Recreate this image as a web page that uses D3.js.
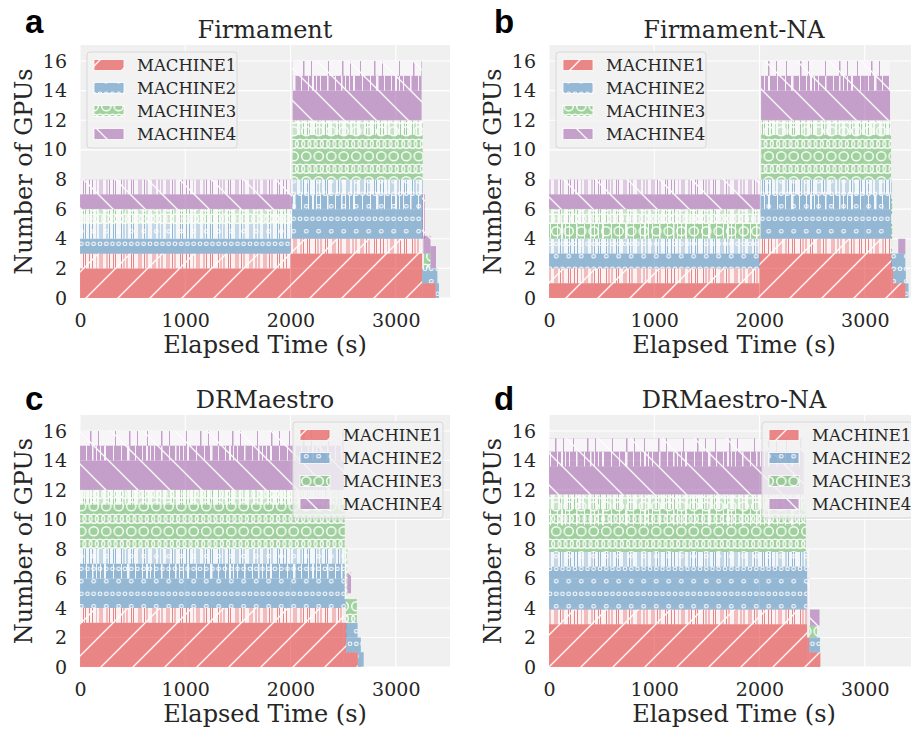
<!DOCTYPE html>
<html><head><meta charset="utf-8">
<script src="https://cdn.jsdelivr.net/npm/d3@7"></script>
<style>body{margin:0;background:#fff}</style>
</head><body>
<svg id="c" width="911" height="730"></svg>
<script>
// ---------------- DATA ----------------
const panelTitles = ["Firmament", "Firmament-NA", "DRMaestro", "DRMaestro-NA"];
const panelLetters = ["a", "b", "c", "d"];
const machines = ["MACHINE1", "MACHINE2", "MACHINE3", "MACHINE4"];
const machineColors = ["#e41a1c", "#377eb8", "#4daf4a", "#984ea3"];
const xTicks = [0, 1000, 2000, 3000];
const yTicks = [0, 2, 4, 6, 8, 10, 12, 14, 16];
const xMax = 3515, yMax = 17.08;
// band: [machine, tStart, tEnd, gpuLow, gpuHigh, occupancy level]
// level 0 = always occupied, 1 = mostly, 2 = often, 3 = rarely
const firmamentBands = [
  [0, 0, 2000, 0, 2, 0], [0, 0, 2000, 2, 3, 2],
  [1, 0, 2015, 3, 4, 0], [1, 0, 2015, 4, 5, 2],
  [2, 0, 2015, 5, 6, 2],
  [3, 0, 2015, 6, 7, 0], [3, 0, 2015, 7, 8, 2],
  [0, 2000, 3250, 0, 3, 0], [0, 2000, 3250, 3, 4, 2],
  [1, 2015, 3255, 4, 6, 0], [1, 2015, 3255, 6, 7, 1], [1, 2015, 3255, 7, 8, 2],
  [2, 2020, 3255, 8, 11, 0], [2, 2020, 3255, 11, 12, 2],
  [3, 2020, 3245, 12, 14, 0], [3, 2020, 3245, 14, 15, 1], [3, 2020, 3245, 15, 16, 3],
  [0, 3250, 3380, 0, 1, 0], [1, 3250, 3395, 1, 2, 0], [1, 3380, 3410, 0, 1, 0],
  [2, 3268, 3330, 2, 3, 0], [3, 3250, 3275, 4, 7, 2],
  [3, 3262, 3330, 3, 4.2, 0], [3, 3330, 3382, 2, 3.5, 0]
];
const firmamentNABands = [
  [0, 0, 2000, 0, 1, 0], [0, 0, 2000, 1, 2, 2],
  [1, 0, 2005, 2, 3, 0], [1, 0, 2005, 3, 4, 2],
  [2, 0, 2010, 4, 5, 1], [2, 0, 2010, 5, 6, 2],
  [3, 0, 2010, 6, 7, 0], [3, 0, 2010, 7, 8, 2],
  [0, 2000, 3255, 0, 3, 0], [0, 2000, 3250, 3, 4, 2],
  [1, 2010, 3255, 4, 6, 0], [1, 2010, 3255, 6, 7, 1], [1, 2010, 3255, 7, 8, 2],
  [2, 2015, 3250, 8, 11, 0], [2, 2015, 3250, 11, 12, 2],
  [3, 2015, 3240, 12, 14, 0], [3, 2015, 3240, 14, 15, 1], [3, 2015, 3240, 15, 16, 3],
  [0, 3255, 3270, 0, 2, 0], [0, 3270, 3388, 0, 1, 0],
  [1, 3250, 3385, 2, 3, 0], [1, 3270, 3390, 1, 2, 0], [1, 3388, 3415, 0, 1, 0],
  [3, 3318, 3385, 3, 4, 0], [2, 3250, 3262, 3, 7, 2]
];
const drmaestroBands = [
  [0, 0, 2507, 0, 3, 0], [0, 0, 2507, 3, 4, 2],
  [1, 0, 2525, 4, 6, 0], [1, 0, 2525, 6, 7, 1], [1, 0, 2525, 7, 8, 2],
  [2, 0, 2515, 8, 11, 0], [2, 0, 2515, 11, 12, 2],
  [3, 0, 2505, 12, 14, 0], [3, 0, 2505, 14, 15, 1], [3, 0, 2505, 15, 16, 3],
  [0, 2507, 2640, 0, 1, 0], [0, 2507, 2530, 1, 3, 0],
  [1, 2526, 2637, 2, 3, 0], [1, 2530, 2668, 1, 2, 0], [1, 2640, 2695, 0, 1, 0],
  [2, 2526, 2630, 3, 4.6, 0], [2, 2515, 2540, 4.6, 8, 2],
  [3, 2540, 2575, 5, 6.4, 0]
];
const drmaestroNABands = [
  [0, 0, 2452, 0, 2.9, 0], [0, 0, 2452, 2.9, 3.9, 2],
  [1, 0, 2452, 3.9, 6.8, 0], [1, 0, 2450, 6.8, 7.8, 2],
  [2, 0, 2440, 7.8, 9.6, 0], [2, 0, 2440, 9.6, 10.7, 1], [2, 0, 2440, 10.7, 11.7, 2],
  [3, 0, 2420, 11.7, 13.6, 0], [3, 0, 2420, 13.6, 14.6, 1], [3, 0, 2420, 14.6, 15.5, 3],
  [0, 2452, 2472, 0, 2, 0], [0, 2472, 2578, 0, 1, 0],
  [1, 2472, 2575, 1, 2, 0], [2, 2474, 2545, 2, 2.8, 0],
  [3, 2480, 2570, 2.8, 3.9, 0], [3, 2455, 2480, 4, 6, 2], [2, 2452, 2470, 6.8, 8, 2]
];
const panelBands = [firmamentBands, firmamentNABands, drmaestroBands, drmaestroNABands];

// ---------------- STYLE / LAYOUT ----------------
const layout = [
  {L: 80, T: 45, B: 298, legend: "left"},
  {L: 549, T: 45, B: 298, legend: "left"},
  {L: 80, T: 415, B: 667, legend: "right"},
  {L: 549, T: 415, B: 667, legend: "right"}
];
const PW = 370;
const serif = "'DejaVu Serif', serif";
const ink = "#262626";

const svg = d3.select("#c");
const defs = svg.append("defs");

// hatch patterns
function hatchPattern(id, color, kind) {
  let p;
  if (kind === "/" || kind === "\\") {
    const s = 32;
    p = defs.append("pattern").attr("id", id).attr("patternUnits", "userSpaceOnUse")
      .attr("width", s).attr("height", s);
    p.append("rect").attr("width", s).attr("height", s).attr("fill", color).attr("fill-opacity", 0.5);
    const segs = kind === "/" ? [[0, s, s, 0], [-2, 2, 2, -2], [s - 2, s + 2, s + 2, s - 2]]
                              : [[0, 0, s, s], [-2, s - 2, 2, s + 2], [s - 2, -2, s + 2, 2]];
    segs.forEach(q => p.append("line").attr("x1", q[0]).attr("y1", q[1]).attr("x2", q[2]).attr("y2", q[3])
      .attr("stroke", "#fff").attr("stroke-width", 1.3).attr("stroke-opacity", 0.95));
  } else {
    const w = 12.5, h = 25;
    const r = kind === "o" ? 1.8 : 4.6, sw = kind === "o" ? 1.1 : 1.5;
    p = defs.append("pattern").attr("id", id).attr("patternUnits", "userSpaceOnUse")
      .attr("width", w).attr("height", h);
    p.append("rect").attr("width", w).attr("height", h).attr("fill", color).attr("fill-opacity", 0.5);
    [[w / 2, h / 4], [0, 3 * h / 4], [w, 3 * h / 4], [w / 2, -h / 4 + h], [0, -h / 4], [w, -h / 4]].forEach(c =>
      p.append("circle").attr("cx", c[0]).attr("cy", c[1]).attr("r", r).attr("fill", "none")
        .attr("stroke", "#fff").attr("stroke-width", sw).attr("stroke-opacity", 0.95));
  }
}
const hatchKinds = ["/", "o", "O", "\\"];
machines.forEach((m, i) => hatchPattern("hatch" + i, machineColors[i], hatchKinds[i]));

// white flicker stripes (texture for partially occupied levels)
const stripeTiles = {
  1: {w: 83, white: [[3,1],[9,1.5],[13,1],[17,1],[21,2],[30,1],[38,1],[44,2.5],[52,1],[59,1],[63,2],[67,1],[71,1],[78,1.5]]},
  2: {w: 97, white: [[0,2.5],[3.5,1],[5.5,4],[10.5,1.5],[13,3],[17,1],[19,5],[25,1.5],[27.5,2],[30.5,3.5],[35,1],[37,4.5],[42.5,1],[44.5,2.5],[48,1.5],[50.5,5],[56.5,1],[58.5,3],[62.5,2],[65.5,4],[70.5,1],[72.5,2.5],[76,1.5],[78.5,4.5],[84,1],[86,3],[90,2],[93,3.5]]},
  3: {w: 71, gaps: [[5,1],[19,1.5],[27,1],[44,1],[58,1.5],[66,1]]}
};
Object.keys(stripeTiles).forEach(k => {
  const t = stripeTiles[k];
  let white = t.white;
  if (!white) {
    white = []; let pos = 0;
    t.gaps.forEach(g => { if (g[0] > pos) white.push([pos, g[0] - pos]); pos = g[0] + g[1]; });
    if (pos < t.w) white.push([pos, t.w - pos]);
  }
  const p = defs.append("pattern").attr("id", "stripe" + k).attr("patternUnits", "userSpaceOnUse")
    .attr("width", t.w).attr("height", 50);
  white.forEach(s => p.append("rect").attr("x", s[0]).attr("y", 0).attr("width", s[1]).attr("height", 50)
    .attr("fill", "#fcfcfc").attr("fill-opacity", 0.93));
});

function drawPanel(i) {
  const lay = layout[i];
  const L = lay.L, T = lay.T, B = lay.B;
  const x = d3.scaleLinear().domain([0, xMax]).range([L, L + PW]);
  const y = d3.scaleLinear().domain([0, yMax]).range([B, T]);
  const g = svg.append("g");

  defs.append("clipPath").attr("id", "clip" + i).append("rect")
    .attr("x", L).attr("y", T).attr("width", PW).attr("height", B - T);

  g.append("rect").attr("x", L).attr("y", T).attr("width", PW).attr("height", B - T).attr("fill", "#f0f0f0");
  g.selectAll(".gy").data(yTicks).enter().append("line")
    .attr("x1", L).attr("x2", L + PW).attr("y1", d => y(d)).attr("y2", d => y(d))
    .attr("stroke", "#fff").attr("stroke-width", 1.1);
  g.selectAll(".gx").data(xTicks).enter().append("line")
    .attr("y1", T).attr("y2", B).attr("x1", d => x(d)).attr("x2", d => x(d))
    .attr("stroke", "#fff").attr("stroke-width", 1.1);

  const plot = g.append("g").attr("clip-path", `url(#clip${i})`);
  panelBands[i].forEach(b => {
    const [m, t0, t1, v0, v1, lvl] = b;
    const rx = x(t0), rw = x(t1) - x(t0), ry = y(v1), rh = y(v0) - y(v1);
    plot.append("rect").attr("x", rx).attr("y", ry).attr("width", rw).attr("height", rh)
      .attr("fill", `url(#hatch${m})`);
    if (lvl > 0) plot.append("rect").attr("x", rx).attr("y", ry).attr("width", rw).attr("height", rh)
      .attr("fill", `url(#stripe${lvl})`);
  });

  // axes
  const ax = g.append("g").attr("transform", `translate(0,${B})`)
    .call(d3.axisBottom(x).tickValues(xTicks).tickSize(0).tickPadding(15.5).tickFormat(d3.format("d")));
  const ay = g.append("g").attr("transform", `translate(${L},0)`)
    .call(d3.axisLeft(y).tickValues(yTicks).tickSize(0).tickPadding(13).tickFormat(d3.format("d")));
  [ax, ay].forEach(a => {
    a.select(".domain").remove();
    a.selectAll("text").attr("font-family", serif).attr("font-size", 19).attr("fill", ink);
  });

  // labels
  g.append("text").attr("x", L + PW / 2).attr("y", T - 7).attr("text-anchor", "middle")
    .attr("font-family", serif).attr("font-size", 24).attr("fill", ink).text(panelTitles[i]);
  g.append("text").attr("x", L + PW / 2).attr("y", B + 55).attr("text-anchor", "middle")
    .attr("font-family", serif).attr("font-size", 24).attr("fill", ink).text("Elapsed Time (s)");
  g.append("text").attr("transform", `translate(${L - 48},${(T + B) / 2}) rotate(-90)`)
    .attr("text-anchor", "middle").attr("font-family", serif).attr("font-size", 24).attr("fill", ink)
    .text("Number of GPUs");
  g.append("text").attr("x", L - 55).attr("y", i < 2 ? 33 : 410)
    .attr("font-family", "'Liberation Sans', Arial, sans-serif").attr("font-weight", "bold")
    .attr("font-size", 33).attr("fill", "#000").text(panelLetters[i]);

  // legend
  const lw = 150, lh = 96;
  const lx = lay.legend === "left" ? L + 7 : L + PW - 7 - lw, ly = T + 7;
  const lg = g.append("g");
  lg.append("rect").attr("x", lx).attr("y", ly).attr("width", lw).attr("height", lh).attr("rx", 3)
    .attr("fill", "#f2f2f2").attr("fill-opacity", 0.82).attr("stroke", "#d8d8d8").attr("stroke-width", 1);
  machines.forEach((m, k) => {
    const cy = ly + 13 + 23 * k;
    lg.append("rect").attr("x", lx + 7).attr("y", cy - 5.5).attr("width", 30).attr("height", 11)
      .attr("fill", `url(#hatch${k})`).attr("stroke", "#fff").attr("stroke-width", 0.8);
    lg.append("text").attr("x", lx + 50).attr("y", cy + 5.8).attr("font-family", serif)
      .attr("font-size", 16.5).attr("fill", ink).text(m);
  });
}
[0, 1, 2, 3].forEach(drawPanel);
</script>
</body></html>
